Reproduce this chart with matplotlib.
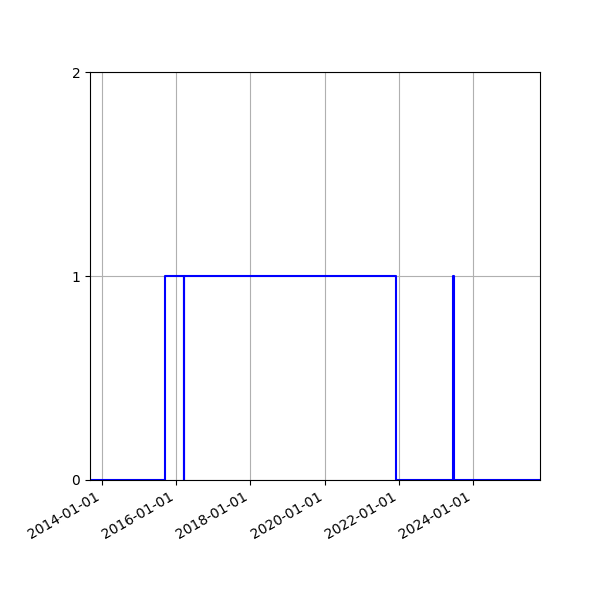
import matplotlib
matplotlib.use("Agg")
import matplotlib.pyplot as plt
import matplotlib.dates as mdates
import pandas as pd

dates = ["2013-09-08", "2015-09-13", "2016-03-21", "2016-03-24", "2021-12-01",
         "2023-06-19", "2023-06-29", "2025-10-20"]
values = [0, 1, 0, 1, 0, 1, 0, 0]
tick_dates = ["2014-01-01", "2016-01-01", "2018-01-01", "2020-01-01", "2022-01-01", "2024-01-01"]
yticks = [0, 1, 2]

x = pd.to_datetime(dates)
fig, ax = plt.subplots(figsize=(6, 6), dpi=100)
ax.step(x, values, where="post", color="blue", linewidth=1.5)
ax.set_xlim(x[0], x[-1])
ax.set_ylim(0, 2)
ax.set_yticks(yticks)
ax.set_xticks(pd.to_datetime(tick_dates))
ax.xaxis.set_major_formatter(mdates.DateFormatter("%Y-%m-%d"))
ax.grid(True)
fig.autofmt_xdate()
fig.subplots_adjust(left=0.15, right=0.9, top=0.88, bottom=0.2)
fig.savefig("out.png")
